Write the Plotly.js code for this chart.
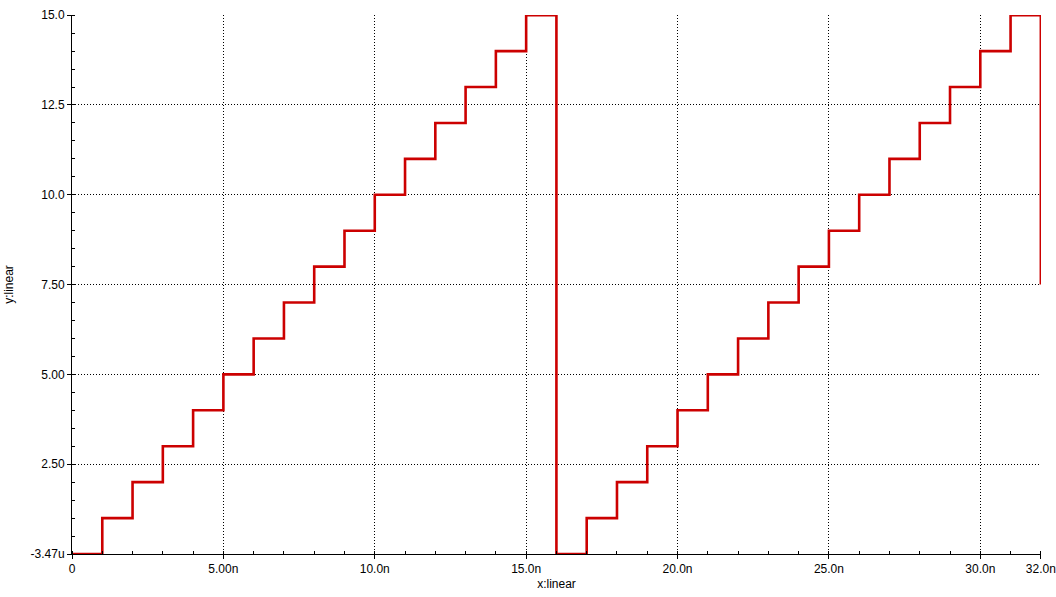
<!DOCTYPE html>
<html>
<head>
<meta charset="utf-8">
<script src="https://cdn.plot.ly/plotly-3.0.1.min.js"></script>
<style>html,body{margin:0;padding:0;background:#fff;}#chart{width:1056px;height:597px;}</style>
</head>
<body>
<div id="chart"></div>
<script>
// time in ns
const timeNs = [0,1,2,3,4,5,6,7,8,9,10,11,12,13,14,15,16,17,18,19,20,21,22,23,24,25,26,27,28,29,30,31,32];
const counterValue = [0,1,2,3,4,5,6,7,8,9,10,11,12,13,14,15,0,1,2,3,4,5,6,7,8,9,10,11,12,13,14,15,7.5];
const xTickVals = [0,5,10,15,20,25,30,32];
const xTickText = ["0","5.00n","10.0n","15.0n","20.0n","25.0n","30.0n","32.0n"];
const yTickVals = [0,2.5,5,7.5,10,12.5,15];
const yTickText = ["-3.47u","2.50","5.00","7.50","10.0","12.5","15.0"];

const font = {family:"Liberation Sans, Arial, sans-serif", size:12, color:"#000"};
const trace = {
  x: timeNs, y: counterValue, type:"scatter", mode:"lines",
  line:{shape:"hv", color:"#cc0000", width:2.6},
  hoverinfo:"skip"
};
const axisCommon = {
  showline:true, linecolor:"#000", linewidth:1,
  showgrid:true, gridcolor:"#000", gridwidth:1, griddash:"1px,2px",
  zeroline:false, ticks:"outside", ticklen:4, tickcolor:"#000", tickwidth:1,
  tickfont:font, tickmode:"array", fixedrange:true
};
const layout = {
  width:1056, height:597,
  margin:{l:72, r:15, t:15, b:43},
  paper_bgcolor:"#fff", plot_bgcolor:"#fff",
  showlegend:false,
  font:font,
  xaxis: Object.assign({}, axisCommon, {
    range:[0,32.005], tickvals:xTickVals, ticktext:xTickText,
    minor:{tickmode:"linear", tick0:0, dtick:1, ticks:"inside", ticklen:3, tickcolor:"#000", showgrid:false},
    title:{text:"x:linear", font:font, standoff:4}
  }),
  yaxis: Object.assign({}, axisCommon, {
    range:[0,15.005], tickvals:yTickVals, ticktext:yTickText,
    minor:{tickmode:"linear", tick0:0, dtick:0.5, ticks:"inside", ticklen:3, tickcolor:"#000", showgrid:false},
    title:{text:"y:linear", font:font, standoff:14}
  })
};
Plotly.newPlot("chart", [trace], layout, {displayModeBar:false, staticPlot:true});
</script>
</body>
</html>
